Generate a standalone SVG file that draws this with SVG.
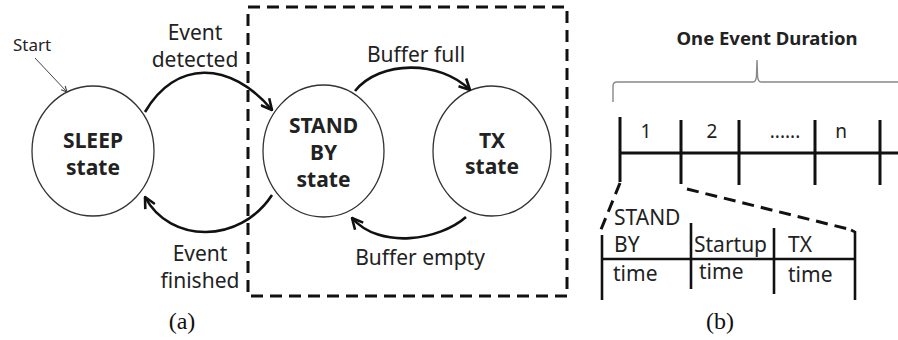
<svg xmlns="http://www.w3.org/2000/svg" width="898" height="340" viewBox="0 0 898 340">
<defs>
<style>
.node{fill:#fff;stroke:#333;stroke-width:1.3}
.st{font-family:"Noto Sans","Liberation Sans",sans-serif;font-weight:bold;font-size:21px;fill:#222;text-anchor:middle}
.lb{font-family:"Noto Sans","Liberation Sans",sans-serif;font-size:21px;fill:#222;text-anchor:middle}
.lbl{font-family:"Noto Sans","Liberation Sans",sans-serif;font-size:21px;fill:#222}
.cap{font-family:"Liberation Serif","Times New Roman",serif;font-size:24px;fill:#111;text-anchor:middle}
.conn{fill:none;stroke:#111;stroke-width:2.6;marker-end:url(#ah)}
.thick{fill:none;stroke:#111;stroke-width:3}
.dash{fill:none;stroke:#111;stroke-width:3;stroke-dasharray:12 7}
</style>
<marker id="ah" viewBox="0 0 12 12" refX="11" refY="6" markerWidth="13" markerHeight="13" markerUnits="userSpaceOnUse" orient="auto">
<path d="M1,1 L11,6 L1,11" fill="none" stroke="#111" stroke-width="2.4"/>
</marker>
<marker id="ahs" viewBox="0 0 10 10" refX="9" refY="5" markerWidth="7" markerHeight="7" markerUnits="userSpaceOnUse" orient="auto">
<path d="M1,1 L9,5 L1,9" fill="none" stroke="#444" stroke-width="1.6"/>
</marker>
</defs>
<rect width="898" height="340" fill="#fff"/>

<!-- (a) state diagram -->
<rect id="standby-group" x="248" y="7" width="319" height="289" class="dash"/>

<g id="sleep">
<ellipse cx="93" cy="151" rx="61" ry="65" class="node"/>
<text x="93" y="148" class="st">SLEEP</text>
<text x="93" y="175" class="st">state</text>
</g>
<g id="standby">
<ellipse cx="323.5" cy="151" rx="60.5" ry="66" class="node"/>
<text x="323.5" y="133" class="st">STAND</text>
<text x="323.5" y="160" class="st">BY</text>
<text x="323.5" y="187" class="st">state</text>
</g>
<g id="tx">
<ellipse cx="492" cy="151" rx="59" ry="65" class="node"/>
<text x="492" y="148" class="st">TX</text>
<text x="492" y="174" class="st">state</text>
</g>

<g id="connectors">
<line x1="35" y1="58" x2="67" y2="92" stroke="#444" stroke-width="1" marker-end="url(#ahs)"/>
<path d="M145,112 C175,60 230,60 272,110" class="conn"/>
<path d="M355,91 C380,60 440,60 470,90" class="conn"/>
<path d="M272,195 C240,244 170,244 145,197" class="conn"/>
<path d="M466,217 C440,240 380,250 352,218" class="conn"/>
</g>

<g id="labels">
<text x="32" y="51" class="lb" style="font-size:17px">Start</text>
<text x="195" y="40" class="lb">Event</text>
<text x="195" y="67" class="lb">detected</text>
<text x="416" y="62" class="lb">Buffer full</text>
<text x="200" y="261" class="lb">Event</text>
<text x="200" y="288" class="lb">finished</text>
<text x="420" y="265" class="lb">Buffer empty</text>
</g>
<text x="182" y="329" class="cap">(a)</text>

<!-- (b) timeline -->
<text x="767" y="45" class="st" style="font-size:18.5px">One Event Duration</text>
<path d="M613,102 L613,86 Q613,82 617,82 L753,82 Q756,82 756.5,76 L757,60 L757.5,76 Q758,82 761,82 L898,82" fill="none" stroke="#888" stroke-width="1.4"/>

<g id="timeline">
<line x1="620" y1="153" x2="898" y2="153" class="thick"/>
<line x1="620" y1="117" x2="620" y2="182" class="thick"/>
<line x1="681" y1="120" x2="681" y2="184" class="thick"/>
<line x1="739" y1="120" x2="739" y2="185" class="thick"/>
<line x1="815" y1="120" x2="815" y2="185" class="thick"/>
<line x1="880" y1="120" x2="880" y2="185" class="thick"/>
<text x="646" y="138" class="lb" style="font-size:19px">1</text>
<text x="712" y="138" class="lb" style="font-size:19px">2</text>
<text x="785" y="138" class="lb" style="font-size:19px">......</text>
<text x="841" y="138" class="lb" style="font-size:19px">n</text>
</g>

<g id="zoom-lines">
<path d="M620,183 L600,232" class="dash" stroke-dasharray="10 6"/>
<path d="M687,189 L852,230" class="dash" stroke-dasharray="12 7"/>
</g>

<g id="detail">
<line x1="602" y1="259" x2="855" y2="259" stroke="#111" stroke-width="2.6"/>
<line x1="602" y1="235" x2="602" y2="300" stroke="#111" stroke-width="2.6"/>
<line x1="691" y1="223" x2="691" y2="289" stroke="#111" stroke-width="2.6"/>
<line x1="774" y1="228" x2="774" y2="294" stroke="#111" stroke-width="2.6"/>
<path d="M851,230 L855,232 L855,300" fill="none" stroke="#111" stroke-width="2.6"/>
<text x="614" y="225" class="lbl">STAND</text>
<text x="614" y="252" class="lbl">BY</text>
<text x="613" y="281" class="lbl">time</text>
<text x="694" y="252" class="lbl">Startup</text>
<text x="699" y="279" class="lbl">time</text>
<text x="788" y="252" class="lbl">TX</text>
<text x="788" y="282" class="lbl">time</text>
</g>
<text x="720" y="329" class="cap">(b)</text>
</svg>
